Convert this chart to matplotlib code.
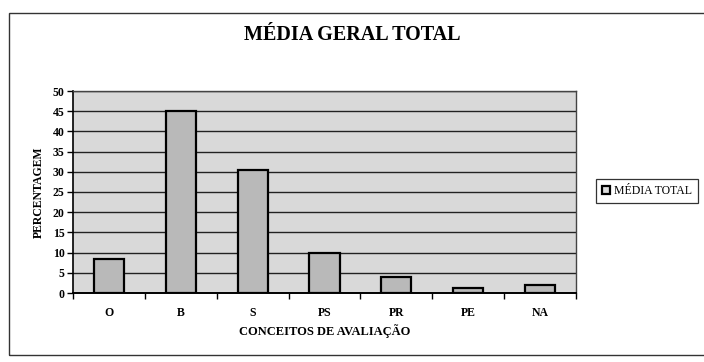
import matplotlib
matplotlib.use("Agg")
import matplotlib.pyplot as plt
from matplotlib.patches import Rectangle

categories = ["O", "B", "S", "PS", "PR", "PE", "NA"]
values = [8.5, 45.0, 30.5, 10.0, 4.0, 1.3, 2.0]
yticks = [0, 5, 10, 15, 20, 25, 30, 35, 40, 45, 50]
series_name = "MÉDIA TOTAL"

plt.rcParams["font.family"] = ["Liberation Serif", "DejaVu Serif"]
plt.rcParams["font.weight"] = "bold"

fig = plt.figure(figsize=(7.04, 3.62), dpi=100)
fig.patch.set_facecolor("white")

# outer chart frame
fig.add_artist(Rectangle((9 / 704, 0.02), 1.0, 1 - 13 / 362 - 0.02,
                         transform=fig.transFigure, fill=False,
                         edgecolor="#333333", linewidth=1.0))

ax = fig.add_axes([73 / 704, 1 - 293 / 362, (576 - 73) / 704, (293 - 91) / 362])
ax.set_facecolor("#d9d9d9")

x = list(range(len(categories)))
ax.bar(x, values, width=0.42, color="#b9b9b9", edgecolor="black",
       linewidth=1.6, zorder=3, label=series_name)

ax.set_xlim(-0.5, len(categories) - 0.5)
ax.set_ylim(0, 50)
ax.set_yticks(yticks)
ax.set_yticklabels([str(t) for t in yticks], fontsize=8.5, fontweight="bold")
ax.set_xticks(x)
ax.set_xticklabels(categories, fontsize=8.5, fontweight="bold")
ax.tick_params(axis="x", length=0, pad=10)
ax.set_xticks([i + 0.5 for i in range(-1, len(categories))], minor=True)
ax.tick_params(axis="x", which="minor", length=4, width=1, direction="out")
ax.tick_params(axis="y", length=4, width=1, direction="out", pad=2)

ax.yaxis.grid(True, color="#222222", linewidth=1.0, zorder=1)
ax.set_axisbelow(True)
for side in ["top", "right"]:
    ax.spines[side].set_color("#444444")
    ax.spines[side].set_linewidth(1.0)
ax.spines["left"].set_linewidth(1.2)
ax.spines["bottom"].set_linewidth(1.4)

ax.set_ylabel("PERCENTAGEM", fontsize=8.5, fontweight="bold", labelpad=6)
ax.set_xlabel("CONCEITOS DE AVALIAÇÃO", fontsize=9, fontweight="bold", labelpad=4)

fig.text(0.5, 1 - 35 / 362, "MÉDIA GERAL TOTAL", ha="center", va="center",
         fontsize=14.5, fontweight="bold")

leg = fig.legend(handles=[Rectangle((0, 0), 1, 1, facecolor="#dddddd",
                                    edgecolor="black", linewidth=1.6)],
                 labels=[series_name], loc="center left",
                 bbox_to_anchor=(596 / 704, 1 - 191 / 362),
                 prop={"size": 8.5, "weight": "normal"},
                 frameon=True, fancybox=False,
                 handlelength=0.7, handleheight=0.7, handletextpad=0.3,
                 borderpad=0.5, borderaxespad=0)
leg.get_frame().set_edgecolor("black")
leg.get_frame().set_linewidth(0.9)

fig.savefig("out.png", dpi=100)
